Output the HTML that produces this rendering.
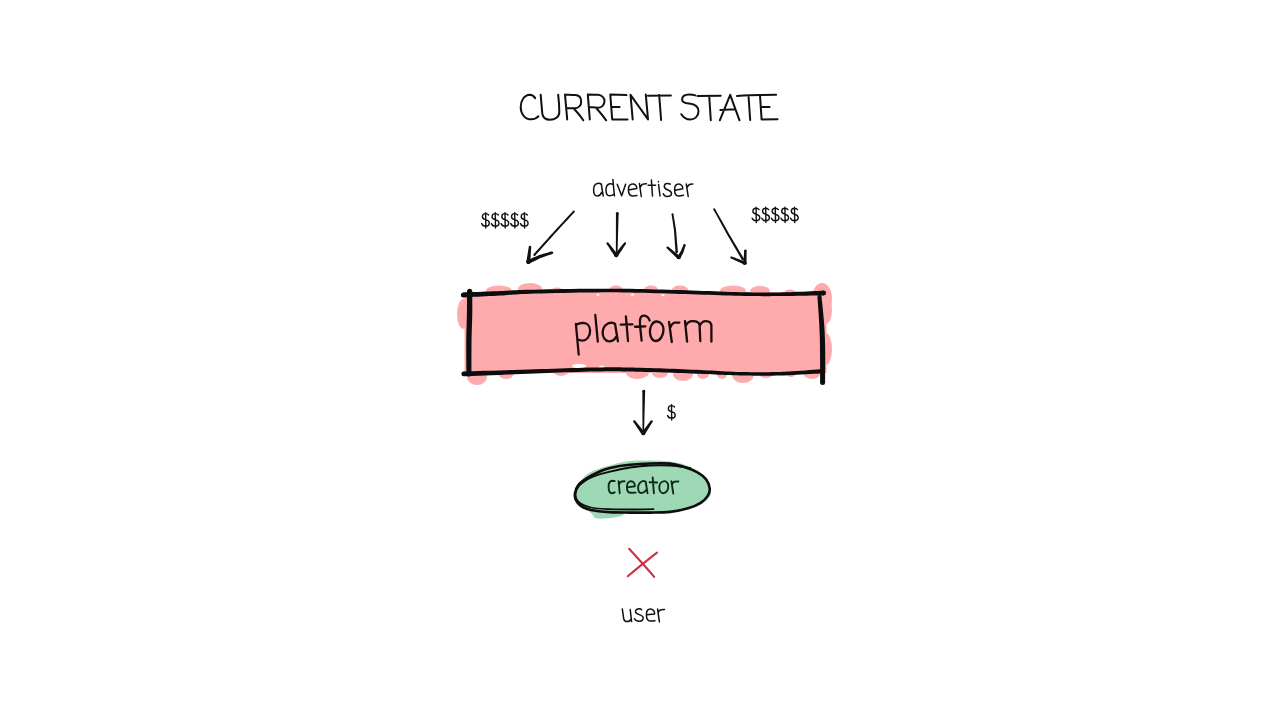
<!DOCTYPE html>
<html>
<head>
<meta charset="utf-8">
<style>
html,body{margin:0;padding:0;background:#fff;width:1280px;height:720px;overflow:hidden}
svg{display:block}
text{font-family:"Liberation Sans",sans-serif;fill:#1b1b1b}
</style>
</head>
<body>
<svg width="1280" height="720" viewBox="0 0 1280 720">
<rect width="1280" height="720" fill="#fff"/>

<g fill="none" stroke="#111" stroke-width="2" stroke-linecap="round" stroke-linejoin="round">
<path d="M535.2 98.1 C533.5 95.5 531.5 94.8 529.8 94.8 C524 95 520.7 101 520.7 107 C520.7 114 525 119.3 531.4 119.3 C534.5 119.3 537 118 538.5 116.2"/>
<path d="M540.7 94.8 C541.2 101 541.8 108 542.3 113.7 C543 117.5 546 119.7 550 119.7 C555 119.7 559.3 117 559.3 112 C559.3 106 558.8 100 558.2 94.8"/>
<path d="M565 94.6 L567.2 119.4 M565 94.6 C569 94.8 572 95 575.1 95.1 C579 95.3 581.2 98 581.2 101.7 C581.2 105.5 578.5 108.2 575.1 108.2 L566.4 108 M574 108.8 C577.5 112.5 580.5 116 583.3 120.3"/>
<path d="M587.8 94.6 L589.8 119.4 M587.8 94.6 C591.5 94.7 595 94.8 598 94.8 C602 95 604.5 98 604.5 101.1 C604.5 105 601.5 107.7 598.5 107.7 L589.2 107.1 M596.3 108.2 C599.5 111.5 603 116 606.2 120.3"/>
<path d="M626.4 95.1 L610.3 94.6 L612.2 119.4 L627.5 119.4 M611.1 107.1 L619.6 106.9"/>
<path d="M632.7 119.4 L630.5 94.8 L648 119.4 L645.8 94.6"/>
<path d="M648 95.7 L670.9 95.4 M659.2 95.1 L661.1 120"/>
<path d="M695.2 95.4 C693.5 94.8 691.5 94.6 689.2 94.6 C685 94.6 682.1 96.5 682.1 99.8 C682.1 103 686 103.3 689.2 103.6 C695 104.2 698.5 107 698.5 111.5 C698.5 116.5 694.5 119.5 690.3 119.5 C686 119.5 683 117 681.3 114.2"/>
<path d="M697.4 95.9 L720.7 95.7 M709.2 95.7 L710.8 120.3"/>
<path d="M719.8 120.3 L730.2 94.8 L739.5 120.3 M720.4 110.1 C725 109.5 729 109.4 734 109.6"/>
<path d="M737 95.9 C745 95.5 752 95.2 760 95.1 M748.5 95.7 L750.2 120"/>
<path d="M776.1 94.8 L760 95.1 L761.6 119.4 L777.5 119.2 M762.2 107.1 L769.6 106.9"/>
</g>
<g><path d="M573.07 210.92 L569.75 214.50 L566.43 218.08 L563.12 221.66 L559.80 225.23 L556.48 228.81 L553.16 232.40 L549.90 236.04 L546.64 239.67 L543.39 243.30 L540.13 246.93 L536.87 250.57 L533.62 254.20 L535.18 255.60 L538.43 251.96 L541.68 248.32 L544.93 244.69 L548.18 241.05 L551.43 237.41 L554.68 233.78 L557.98 230.20 L561.29 226.61 L564.60 223.03 L567.91 219.45 L571.22 215.86 L574.53 212.28 Z" fill="#111"/><circle cx="573.80" cy="211.60" r="1.00" fill="#111"/><circle cx="534.40" cy="254.90" r="1.05" fill="#111"/><path d="M528.81 246.86 L528.60 248.10 L528.39 249.33 L528.18 250.57 L527.98 251.80 L527.77 253.03 L527.56 254.27 L527.35 255.50 L527.14 256.74 L526.94 257.97 L526.73 259.21 L526.52 260.44 L526.31 261.67 L530.29 262.13 L530.36 260.88 L530.44 259.63 L530.51 258.38 L530.59 257.13 L530.66 255.88 L530.74 254.63 L530.82 253.38 L530.89 252.13 L530.97 250.88 L531.04 249.63 L531.12 248.39 L531.19 247.14 Z" fill="#111"/><circle cx="530.00" cy="247.00" r="1.20" fill="#111"/><circle cx="528.30" cy="261.90" r="2.00" fill="#111"/><path d="M529.14 263.72 L531.03 262.78 L532.93 261.84 L534.83 260.90 L536.72 259.96 L538.62 259.02 L540.43 258.12 L542.32 257.43 L544.31 256.73 L546.30 256.04 L548.30 255.34 L550.30 254.64 L552.30 253.94 L551.50 251.46 L549.47 252.05 L547.44 252.64 L545.41 253.22 L543.38 253.81 L541.33 254.40 L539.21 255.05 L537.19 255.92 L535.24 256.75 L533.30 257.58 L531.35 258.42 L529.41 259.25 L527.46 260.08 Z" fill="#111"/><circle cx="528.30" cy="261.90" r="2.00" fill="#111"/><circle cx="551.90" cy="252.70" r="1.30" fill="#111"/><path d="M615.95 213.28 L615.94 216.50 L615.93 219.73 L615.92 222.96 L615.91 226.18 L615.90 229.41 L615.89 232.63 L615.88 235.86 L615.88 239.08 L615.87 242.31 L615.86 245.54 L615.86 248.76 L615.85 251.99 L617.55 252.01 L617.64 248.79 L617.73 245.56 L617.82 242.34 L617.91 239.12 L618.00 235.89 L618.09 232.67 L618.18 229.44 L618.28 226.22 L618.37 222.99 L618.46 219.77 L618.56 216.55 L618.65 213.32 Z" fill="#111"/><circle cx="617.30" cy="213.30" r="1.35" fill="#111"/><circle cx="616.70" cy="252.00" r="0.85" fill="#111"/><path d="M606.61 243.94 L607.29 244.99 L607.97 246.03 L608.65 247.07 L609.34 248.11 L610.02 249.16 L610.70 250.20 L611.38 251.24 L612.06 252.28 L612.75 253.33 L613.43 254.37 L614.11 255.41 L614.79 256.45 L617.71 254.35 L616.93 253.37 L616.16 252.40 L615.38 251.42 L614.60 250.45 L613.83 249.47 L613.05 248.50 L612.27 247.53 L611.50 246.55 L610.72 245.58 L609.94 244.60 L609.17 243.63 L608.39 242.66 Z" fill="#111"/><circle cx="607.50" cy="243.30" r="1.10" fill="#111"/><circle cx="616.25" cy="255.40" r="1.80" fill="#111"/><path d="M617.71 256.45 L618.39 255.41 L619.07 254.37 L619.75 253.33 L620.44 252.28 L621.12 251.24 L621.80 250.20 L622.48 249.16 L623.16 248.11 L623.85 247.07 L624.53 246.03 L625.21 244.99 L625.89 243.94 L624.11 242.66 L623.33 243.63 L622.56 244.60 L621.78 245.58 L621.00 246.55 L620.23 247.53 L619.45 248.50 L618.67 249.47 L617.90 250.45 L617.12 251.42 L616.34 252.40 L615.57 253.37 L614.79 254.35 Z" fill="#111"/><circle cx="616.25" cy="255.40" r="1.80" fill="#111"/><circle cx="625.00" cy="243.30" r="1.10" fill="#111"/><path d="M671.56 214.35 L672.04 217.48 L672.51 220.62 L672.99 223.76 L673.46 226.89 L673.93 229.99 L674.16 233.11 L674.39 236.27 L674.61 239.44 L674.83 242.60 L675.06 245.76 L675.28 248.93 L675.50 252.09 L677.90 251.91 L677.63 248.75 L677.37 245.59 L677.10 242.43 L676.84 239.26 L676.57 236.10 L676.31 232.94 L676.03 229.74 L675.50 226.57 L674.99 223.44 L674.47 220.31 L673.95 217.18 L673.44 214.05 Z" fill="#111"/><circle cx="672.50" cy="214.20" r="0.95" fill="#111"/><circle cx="676.70" cy="252.00" r="1.20" fill="#111"/><path d="M666.77 248.32 L667.67 249.20 L668.57 250.08 L669.47 250.95 L670.36 251.83 L671.26 252.71 L672.16 253.58 L673.06 254.46 L673.96 255.34 L674.86 256.21 L675.76 257.09 L676.66 257.97 L677.55 258.85 L679.95 256.15 L678.97 255.36 L677.99 254.58 L677.02 253.79 L676.04 253.00 L675.06 252.21 L674.09 251.42 L673.11 250.63 L672.14 249.84 L671.16 249.05 L670.18 248.26 L669.21 247.47 L668.23 246.68 Z" fill="#111"/><circle cx="667.50" cy="247.50" r="1.10" fill="#111"/><circle cx="678.75" cy="257.50" r="1.80" fill="#111"/><path d="M680.30 258.42 L680.84 257.39 L681.37 256.37 L681.91 255.34 L682.45 254.32 L683.02 253.24 L683.52 252.06 L683.89 250.90 L684.24 249.79 L684.59 248.69 L684.94 247.59 L685.28 246.49 L685.63 245.38 L683.57 244.62 L683.11 245.68 L682.66 246.74 L682.20 247.80 L681.74 248.87 L681.29 249.93 L680.85 250.93 L680.36 251.82 L679.75 252.73 L679.11 253.69 L678.48 254.66 L677.84 255.62 L677.20 256.58 Z" fill="#111"/><circle cx="678.75" cy="257.50" r="1.80" fill="#111"/><circle cx="684.60" cy="245.00" r="1.10" fill="#111"/><path d="M713.37 209.66 L715.70 213.87 L718.02 218.09 L720.35 222.30 L722.67 226.51 L725.00 230.73 L727.34 234.95 L729.77 239.11 L732.20 243.26 L734.63 247.42 L737.05 251.57 L739.48 255.73 L741.91 259.88 L743.89 258.72 L741.43 254.58 L738.98 250.44 L736.52 246.30 L734.07 242.17 L731.61 238.03 L729.16 233.90 L726.80 229.72 L724.45 225.52 L722.09 221.33 L719.74 217.13 L717.38 212.93 L715.03 208.74 Z" fill="#111"/><circle cx="714.20" cy="209.20" r="0.95" fill="#111"/><circle cx="742.90" cy="259.30" r="1.15" fill="#111"/><path d="M730.91 258.32 L732.02 258.85 L733.14 259.38 L734.25 259.91 L735.36 260.44 L736.48 260.97 L737.59 261.50 L738.70 262.03 L739.82 262.55 L740.93 263.08 L742.04 263.61 L743.16 264.14 L744.27 264.67 L745.53 261.73 L744.37 261.29 L743.22 260.85 L742.07 260.42 L740.92 259.98 L739.76 259.54 L738.61 259.10 L737.46 258.67 L736.30 258.23 L735.15 257.79 L734.00 257.35 L732.85 256.92 L731.69 256.48 Z" fill="#111"/><circle cx="731.30" cy="257.40" r="1.00" fill="#111"/><circle cx="744.90" cy="263.20" r="1.60" fill="#111"/><path d="M746.50 263.26 L746.51 262.21 L746.52 261.16 L746.52 260.11 L746.53 259.06 L746.54 258.01 L746.55 256.96 L746.56 255.90 L746.57 254.85 L746.57 253.80 L746.58 252.75 L746.59 251.70 L746.60 250.65 L744.20 250.55 L744.13 251.60 L744.05 252.65 L743.98 253.70 L743.90 254.75 L743.83 255.80 L743.75 256.84 L743.68 257.89 L743.60 258.94 L743.53 259.99 L743.45 261.04 L743.38 262.09 L743.30 263.14 Z" fill="#111"/><circle cx="744.90" cy="263.20" r="1.60" fill="#111"/><circle cx="745.40" cy="250.60" r="1.20" fill="#111"/></g>
<g fill="#ffabae"><rect x="464.5" y="294" width="362" height="79"/><rect x="466" y="292" width="358" height="4"/>
<ellipse cx="499" cy="291" rx="13" ry="5.5"/>
<ellipse cx="530" cy="289" rx="12" ry="6"/>
<ellipse cx="557" cy="291" rx="6" ry="3.5"/>
<ellipse cx="616" cy="290" rx="7" ry="4.5"/>
<ellipse cx="651" cy="290" rx="7" ry="4.5"/>
<ellipse cx="680" cy="290" rx="8" ry="4.5"/>
<ellipse cx="733" cy="291" rx="13" ry="5.5"/>
<ellipse cx="760" cy="291" rx="10" ry="5"/>
<ellipse cx="790" cy="293" rx="6" ry="3.5"/>
<ellipse cx="822" cy="298" rx="10" ry="15"/>
<ellipse cx="826" cy="349" rx="6" ry="16"/>
<ellipse cx="826" cy="310" rx="6" ry="14"/>
<ellipse cx="463.5" cy="314" rx="6.5" ry="15"/>
<ellipse cx="477" cy="377" rx="10" ry="8"/>
<ellipse cx="506" cy="373" rx="8" ry="6"/>
<ellipse cx="561" cy="371" rx="8" ry="5"/>
<ellipse cx="637" cy="373" rx="11" ry="6"/>
<ellipse cx="644" cy="372" rx="5" ry="5"/>
<ellipse cx="660" cy="373" rx="8" ry="5"/>
<ellipse cx="683" cy="374" rx="10" ry="7"/>
<ellipse cx="703" cy="374" rx="6" ry="5"/>
<ellipse cx="722" cy="374" rx="5" ry="5"/>
<ellipse cx="743" cy="375" rx="11" ry="8"/>
<ellipse cx="766" cy="374" rx="7" ry="4"/>
<ellipse cx="791" cy="373" rx="5" ry="4"/>
<ellipse cx="812" cy="374" rx="8" ry="5"/>
</g>
<g fill="#fff"><ellipse cx="579" cy="366" rx="7" ry="2.2"/><ellipse cx="602" cy="367" rx="3" ry="1.2"/><ellipse cx="598" cy="294.8" rx="1.5" ry="1"/><ellipse cx="632.5" cy="294.8" rx="1.5" ry="1"/><ellipse cx="663" cy="295.3" rx="1.5" ry="1"/></g>
<g><path d="M463.51 297.40 L465.48 297.29 L468.02 297.16 L471.02 297.01 L474.39 296.84 L478.04 296.66 L481.85 296.48 L485.74 296.28 L489.61 296.09 L493.35 295.90 L496.89 295.72 L500.11 295.55 L502.91 295.38 L505.32 295.21 L507.46 295.04 L509.45 294.87 L511.42 294.71 L513.49 294.54 L515.80 294.38 L518.49 294.22 L521.67 294.06 L525.48 293.90 L530.05 293.75 L535.48 293.60 L541.68 293.43 L548.52 293.26 L555.87 293.08 L563.58 292.92 L571.53 292.76 L579.57 292.61 L587.57 292.49 L595.40 292.39 L602.92 292.33 L610.00 292.30 L616.76 292.34 L623.45 292.42 L630.05 292.52 L636.57 292.66 L643.01 292.81 L649.37 292.98 L655.65 293.16 L661.85 293.35 L667.96 293.54 L674.00 293.72 L679.95 293.90 L685.85 294.06 L691.73 294.24 L697.56 294.43 L703.33 294.63 L709.01 294.83 L714.57 295.03 L720.01 295.22 L725.29 295.39 L730.39 295.55 L735.28 295.69 L739.96 295.80 L744.34 295.89 L748.41 295.97 L752.22 296.03 L755.84 296.08 L759.31 296.12 L762.69 296.14 L766.02 296.14 L769.37 296.14 L772.78 296.12 L776.32 296.09 L780.02 296.05 L784.03 296.04 L788.36 296.01 L792.89 295.95 L797.52 295.87 L802.14 295.78 L806.65 295.69 L810.94 295.61 L814.91 295.53 L818.44 295.46 L821.43 295.42 L823.77 295.40 L823.63 290.60 L821.28 290.73 L818.29 290.88 L814.76 291.06 L810.80 291.25 L806.51 291.44 L802.01 291.64 L797.40 291.84 L792.78 292.02 L788.27 292.19 L783.96 292.33 L779.98 292.45 L776.28 292.49 L772.76 292.52 L769.36 292.54 L766.02 292.54 L762.70 292.54 L759.34 292.52 L755.88 292.48 L752.28 292.44 L748.47 292.37 L744.41 292.29 L740.04 292.20 L735.38 292.07 L730.50 291.92 L725.41 291.74 L720.14 291.55 L714.71 291.34 L709.14 291.12 L703.46 290.90 L697.69 290.69 L691.85 290.48 L685.96 290.28 L680.05 290.10 L674.10 289.94 L668.07 289.78 L661.96 289.61 L655.75 289.44 L649.47 289.28 L643.10 289.12 L636.65 288.99 L630.11 288.87 L623.49 288.78 L616.79 288.72 L610.00 288.70 L602.91 288.69 L595.37 288.72 L587.53 288.78 L579.51 288.87 L571.46 288.97 L563.51 289.10 L555.79 289.23 L548.44 289.37 L541.59 289.50 L535.38 289.63 L529.95 289.75 L525.36 289.86 L521.51 289.97 L518.29 290.08 L515.57 290.20 L513.22 290.32 L511.11 290.44 L509.13 290.57 L507.15 290.69 L505.04 290.81 L502.66 290.93 L499.89 291.05 L496.68 291.18 L493.15 291.32 L489.40 291.46 L485.54 291.61 L481.65 291.75 L477.83 291.89 L474.19 292.03 L470.82 292.15 L467.81 292.25 L465.27 292.34 L463.29 292.40 Z" fill="#0d0d0d"/><circle cx="463.40" cy="294.90" r="2.50" fill="#0d0d0d"/><circle cx="823.70" cy="293.00" r="2.40" fill="#0d0d0d"/><path d="M463.83 376.30 L467.66 376.14 L472.54 375.93 L478.29 375.70 L484.76 375.44 L491.75 375.17 L499.10 374.88 L506.63 374.59 L514.17 374.29 L521.54 374.01 L528.56 373.74 L535.07 373.50 L541.27 373.28 L547.48 373.05 L553.66 372.82 L559.80 372.59 L565.88 372.36 L571.89 372.15 L577.79 371.95 L583.58 371.77 L589.23 371.62 L594.71 371.49 L600.02 371.40 L605.12 371.35 L610.01 371.33 L614.71 371.34 L619.27 371.37 L623.71 371.42 L628.08 371.49 L632.41 371.58 L636.72 371.67 L641.06 371.78 L645.46 371.89 L649.95 372.00 L654.53 372.11 L659.16 372.25 L663.84 372.40 L668.53 372.56 L673.21 372.73 L677.87 372.91 L682.47 373.10 L687.00 373.28 L691.44 373.46 L695.75 373.63 L699.92 373.80 L703.93 373.95 L707.79 374.12 L711.54 374.29 L715.19 374.46 L718.76 374.63 L722.29 374.80 L725.79 374.95 L729.29 375.09 L732.80 375.22 L736.35 375.32 L739.96 375.40 L743.60 375.49 L747.22 375.56 L750.83 375.62 L754.45 375.67 L758.06 375.70 L761.68 375.72 L765.32 375.72 L768.97 375.69 L772.64 375.65 L776.33 375.59 L780.06 375.50 L783.97 375.39 L788.17 375.23 L792.55 375.03 L797.00 374.81 L801.44 374.57 L805.76 374.32 L809.87 374.08 L813.65 373.86 L817.03 373.66 L819.88 373.51 L822.13 373.40 L821.87 369.20 L819.62 369.37 L816.76 369.58 L813.39 369.83 L809.61 370.11 L805.51 370.40 L801.20 370.70 L796.78 371.00 L792.35 371.27 L787.99 371.52 L783.83 371.74 L779.94 371.90 L776.25 372.01 L772.58 372.09 L768.93 372.15 L765.30 372.19 L761.68 372.21 L758.08 372.21 L754.48 372.20 L750.88 372.17 L747.27 372.12 L743.66 372.07 L740.04 372.00 L736.45 371.89 L732.93 371.75 L729.44 371.59 L725.96 371.41 L722.47 371.22 L718.95 371.02 L715.38 370.81 L711.72 370.60 L707.97 370.40 L704.10 370.19 L700.08 370.00 L695.91 369.82 L691.60 369.63 L687.17 369.43 L682.64 369.23 L678.03 369.03 L673.37 368.83 L668.68 368.64 L663.98 368.46 L659.29 368.29 L654.64 368.13 L650.05 368.00 L645.56 367.89 L641.16 367.78 L636.82 367.67 L632.49 367.58 L628.15 367.49 L623.77 367.42 L619.30 367.37 L614.73 367.34 L610.00 367.33 L605.10 367.35 L599.98 367.40 L594.64 367.47 L589.13 367.58 L583.47 367.72 L577.67 367.88 L571.75 368.06 L565.74 368.26 L559.65 368.46 L553.51 368.68 L547.33 368.89 L541.13 369.10 L534.93 369.30 L528.42 369.49 L521.39 369.70 L514.02 369.93 L506.48 370.17 L498.94 370.41 L491.59 370.64 L484.59 370.86 L478.13 371.07 L472.37 371.25 L467.49 371.39 L463.67 371.50 Z" fill="#0d0d0d"/><circle cx="463.75" cy="373.90" r="2.40" fill="#0d0d0d"/><circle cx="822.00" cy="371.30" r="2.10" fill="#0d0d0d"/><path d="M467.00 291.26 L466.99 292.51 L466.99 294.10 L466.99 295.95 L466.99 298.04 L466.99 300.30 L466.99 302.71 L466.98 305.20 L466.96 307.74 L466.94 310.28 L466.90 312.76 L466.86 315.24 L466.80 317.78 L466.74 320.40 L466.66 323.08 L466.58 325.83 L466.49 328.63 L466.42 331.51 L466.35 334.44 L466.29 337.42 L466.25 340.47 L466.24 343.74 L466.24 347.34 L466.24 351.15 L466.26 355.06 L466.28 358.94 L466.31 362.68 L466.33 366.16 L466.36 369.27 L466.38 371.89 L466.40 373.90 L471.40 373.90 L471.41 371.88 L471.42 369.26 L471.42 366.15 L471.43 362.66 L471.43 358.93 L471.44 355.05 L471.45 351.16 L471.48 347.36 L471.51 343.78 L471.55 340.53 L471.60 337.52 L471.67 334.56 L471.74 331.65 L471.83 328.79 L471.92 325.99 L472.02 323.25 L472.10 320.56 L472.18 317.93 L472.25 315.35 L472.30 312.84 L472.32 310.32 L472.32 307.76 L472.32 305.21 L472.31 302.70 L472.29 300.28 L472.27 298.01 L472.25 295.92 L472.23 294.07 L472.21 292.49 L472.20 291.24 Z" fill="#0d0d0d"/><circle cx="469.60" cy="291.25" r="2.60" fill="#0d0d0d"/><circle cx="468.90" cy="373.90" r="2.50" fill="#0d0d0d"/><path d="M817.51 296.96 L817.60 298.72 L817.74 301.00 L817.93 303.70 L818.13 306.73 L818.36 309.97 L818.59 313.34 L818.80 316.72 L819.01 320.02 L819.18 323.13 L819.30 325.95 L819.44 328.51 L819.55 330.94 L819.65 333.26 L819.73 335.53 L819.80 337.77 L819.85 340.03 L819.90 342.35 L819.94 344.76 L819.97 347.31 L820.00 350.03 L820.04 353.07 L820.07 356.48 L820.09 360.14 L820.10 363.92 L820.10 367.71 L820.10 371.37 L820.10 374.79 L820.09 377.85 L820.09 380.43 L820.10 382.40 L825.10 382.40 L825.11 380.44 L825.13 377.87 L825.16 374.81 L825.18 371.39 L825.20 367.72 L825.22 363.93 L825.23 360.14 L825.23 356.46 L825.22 353.03 L825.20 349.97 L825.15 347.23 L825.09 344.66 L825.04 342.23 L824.97 339.89 L824.89 337.61 L824.80 335.34 L824.70 333.05 L824.59 330.69 L824.45 328.24 L824.30 325.65 L824.06 322.80 L823.79 319.67 L823.49 316.36 L823.17 312.97 L822.84 309.60 L822.52 306.36 L822.21 303.34 L821.93 300.64 L821.69 298.38 L821.49 296.64 Z" fill="#0d0d0d"/><circle cx="819.50" cy="296.80" r="2.00" fill="#0d0d0d"/><circle cx="822.60" cy="382.40" r="2.50" fill="#0d0d0d"/></g>
<g><path d="M642.35 391.23 L642.36 394.55 L642.37 397.86 L642.38 401.17 L642.39 404.49 L642.40 407.80 L642.41 411.11 L642.42 414.43 L642.44 417.74 L642.45 421.05 L642.47 424.37 L642.48 427.68 L642.50 430.99 L644.10 431.01 L644.18 427.70 L644.27 424.38 L644.35 421.07 L644.44 417.76 L644.52 414.45 L644.61 411.14 L644.70 407.83 L644.79 404.51 L644.88 401.20 L644.97 397.89 L645.06 394.58 L645.15 391.27 Z" fill="#111"/><circle cx="643.75" cy="391.25" r="1.40" fill="#111"/><circle cx="643.30" cy="431.00" r="0.80" fill="#111"/><path d="M633.32 421.91 L634.03 422.96 L634.74 424.02 L635.45 425.07 L636.16 426.13 L636.87 427.18 L637.59 428.24 L638.30 429.30 L639.01 430.35 L639.72 431.41 L640.43 432.46 L641.14 433.52 L641.86 434.57 L644.74 432.43 L643.94 431.44 L643.13 430.45 L642.33 429.47 L641.52 428.48 L640.72 427.50 L639.91 426.51 L639.11 425.52 L638.30 424.54 L637.50 423.55 L636.69 422.57 L635.89 421.58 L635.08 420.59 Z" fill="#111"/><circle cx="634.20" cy="421.25" r="1.10" fill="#111"/><circle cx="643.30" cy="433.50" r="1.80" fill="#111"/><path d="M644.78 434.52 L645.44 433.46 L646.09 432.41 L646.74 431.36 L647.39 430.30 L648.04 429.25 L648.70 428.20 L649.35 427.14 L650.00 426.09 L650.65 425.03 L651.30 423.98 L651.96 422.93 L652.61 421.87 L650.79 420.63 L650.04 421.62 L649.30 422.60 L648.55 423.59 L647.80 424.58 L647.05 425.57 L646.30 426.55 L645.56 427.54 L644.81 428.53 L644.06 429.52 L643.31 430.51 L642.56 431.49 L641.82 432.48 Z" fill="#111"/><circle cx="643.30" cy="433.50" r="1.80" fill="#111"/><circle cx="651.70" cy="421.25" r="1.10" fill="#111"/></g>
<path d="M576.5 493.0 C576.8 489.8 578.4 486.0 580.0 483.0 C581.6 480.0 583.2 477.2 586.0 475.0 C588.8 472.8 592.2 471.3 597.0 469.5 C601.8 467.7 609.5 465.4 615.0 464.0 C620.5 462.6 624.2 461.6 630.0 461.0 C635.8 460.4 643.3 460.4 650.0 460.5 C656.7 460.6 663.8 460.7 670.0 461.5 C676.2 462.3 682.0 463.7 687.0 465.5 C692.0 467.3 696.7 469.9 700.0 472.5 C703.3 475.1 705.2 477.9 707.0 481.0 C708.8 484.1 710.8 488.0 711.0 491.0 C711.2 494.0 710.2 496.6 708.0 499.0 C705.8 501.4 702.7 503.7 698.0 505.5 C693.3 507.3 688.0 508.8 680.0 510.0 C672.0 511.2 658.7 512.0 650.0 512.5 C641.3 513.0 633.0 512.3 628.0 513.0 C623.0 513.7 623.3 515.6 620.0 516.5 C616.7 517.4 612.0 518.0 608.0 518.3 C604.0 518.6 598.7 519.0 596.0 518.3 C593.3 517.6 593.8 515.7 592.0 514.0 C590.2 512.3 587.3 510.0 585.0 508.0 C582.7 506.0 579.4 504.5 578.0 502.0 C576.6 499.5 576.2 496.2 576.5 493.0 Z" fill="#9fd8b4"/>
<path d="M575.0 493.3 C575.4 490.8 576.3 487.5 578.3 485.0 C580.2 482.5 583.2 480.5 586.7 478.3 C590.2 476.1 595.3 473.4 599.2 471.7 C603.1 470.0 604.9 469.0 610.0 467.9 C615.1 466.8 623.3 465.5 630.0 464.8 C636.7 464.1 643.3 463.7 650.0 463.5 C656.7 463.3 664.4 463.1 670.0 463.6 C675.6 464.1 679.0 465.3 683.5 466.7 C688.0 468.1 693.2 470.0 697.0 472.1 C700.8 474.2 704.0 476.7 706.1 479.4 C708.2 482.1 709.4 485.7 709.7 488.4 C710.0 491.1 709.4 493.2 707.9 495.6 C706.4 498.0 704.0 500.7 700.7 502.8 C697.4 504.9 693.1 506.8 688.0 508.3 C682.9 509.8 676.3 511.2 670.0 511.9 C663.7 512.6 656.7 512.5 650.0 512.6 C643.3 512.7 636.7 512.7 630.0 512.6 C623.3 512.5 616.5 512.5 610.0 512.1 C603.5 511.7 595.7 511.1 590.8 510.0 C585.9 508.9 583.3 507.5 580.8 505.8 C578.3 504.1 576.8 502.1 575.8 500.0 C574.8 497.9 574.6 495.8 575.0 493.3 Z" fill="none" stroke="#0d0d0d" stroke-width="2.6"/>
<path d="M653.5 509.2 C649.6 509.2 637.2 509.5 630.0 509.5 C622.8 509.5 616.5 509.5 610.0 509.2 C603.5 508.9 596.1 508.8 590.8 507.5 C585.5 506.2 580.8 503.9 578.3 501.7 C575.8 499.4 575.4 496.6 575.5 494.0 C575.6 491.4 576.9 488.5 579.0 486.0 C581.1 483.5 585.3 480.7 588.0 479.0 C590.7 477.3 591.3 477.0 595.0 475.8 C598.7 474.6 604.2 473.1 610.0 471.7 C615.8 470.3 623.3 468.5 630.0 467.5 C636.7 466.5 643.3 465.8 650.0 465.5 C656.7 465.2 663.3 465.1 670.0 465.5 C676.7 465.9 686.7 467.6 690.0 468.0" fill="none" stroke="#0d0d0d" stroke-width="1.8" stroke-linecap="round"/>
<g fill="none" stroke="#cf2f47" stroke-width="2.1" stroke-linecap="round"><path d="M629.2 548.8 C637 557.5 646 567 654.2 576.9"/><path d="M657 552.7 C647 560.5 637 568.5 627.8 576.3"/></g>
<g fill="none" stroke="#111" stroke-linecap="round" stroke-linejoin="round">
<path d="M488.60 215.00 C487.90 214.00 486.80 213.60 485.40 213.60 C483.60 213.60 482.40 215.00 482.40 216.70 C482.40 218.50 483.80 219.10 485.60 219.60 C488.00 220.20 489.30 221.30 489.30 222.90 C489.30 224.90 487.60 226.10 485.30 226.10 C483.60 226.10 482.30 225.00 481.70 223.60 M485.60 212.60 L485.80 228.00" stroke-width="1.4"/>
<path d="M759.10 209.60 C758.40 208.60 757.30 208.20 755.90 208.20 C754.10 208.20 752.90 209.60 752.90 211.30 C752.90 213.10 754.30 213.70 756.10 214.20 C758.50 214.80 759.80 215.90 759.80 217.50 C759.80 219.50 758.10 220.70 755.80 220.70 C754.10 220.70 752.80 219.60 752.20 218.20 M756.10 207.20 L756.30 222.60" stroke-width="1.4"/>
<path d="M498.30 215.00 C497.60 214.00 496.50 213.60 495.10 213.60 C493.30 213.60 492.10 215.00 492.10 216.70 C492.10 218.50 493.50 219.10 495.30 219.60 C497.70 220.20 499.00 221.30 499.00 222.90 C499.00 224.90 497.30 226.10 495.00 226.10 C493.30 226.10 492.00 225.00 491.40 223.60 M495.30 212.60 L495.50 228.00" stroke-width="1.4"/>
<path d="M768.70 209.60 C768.00 208.60 766.90 208.20 765.50 208.20 C763.70 208.20 762.50 209.60 762.50 211.30 C762.50 213.10 763.90 213.70 765.70 214.20 C768.10 214.80 769.40 215.90 769.40 217.50 C769.40 219.50 767.70 220.70 765.40 220.70 C763.70 220.70 762.40 219.60 761.80 218.20 M765.70 207.20 L765.90 222.60" stroke-width="1.4"/>
<path d="M508.00 215.00 C507.30 214.00 506.20 213.60 504.80 213.60 C503.00 213.60 501.80 215.00 501.80 216.70 C501.80 218.50 503.20 219.10 505.00 219.60 C507.40 220.20 508.70 221.30 508.70 222.90 C508.70 224.90 507.00 226.10 504.70 226.10 C503.00 226.10 501.70 225.00 501.10 223.60 M505.00 212.60 L505.20 228.00" stroke-width="1.4"/>
<path d="M778.30 209.60 C777.60 208.60 776.50 208.20 775.10 208.20 C773.30 208.20 772.10 209.60 772.10 211.30 C772.10 213.10 773.50 213.70 775.30 214.20 C777.70 214.80 779.00 215.90 779.00 217.50 C779.00 219.50 777.30 220.70 775.00 220.70 C773.30 220.70 772.00 219.60 771.40 218.20 M775.30 207.20 L775.50 222.60" stroke-width="1.4"/>
<path d="M517.70 215.00 C517.00 214.00 515.90 213.60 514.50 213.60 C512.70 213.60 511.50 215.00 511.50 216.70 C511.50 218.50 512.90 219.10 514.70 219.60 C517.10 220.20 518.40 221.30 518.40 222.90 C518.40 224.90 516.70 226.10 514.40 226.10 C512.70 226.10 511.40 225.00 510.80 223.60 M514.70 212.60 L514.90 228.00" stroke-width="1.4"/>
<path d="M787.90 209.60 C787.20 208.60 786.10 208.20 784.70 208.20 C782.90 208.20 781.70 209.60 781.70 211.30 C781.70 213.10 783.10 213.70 784.90 214.20 C787.30 214.80 788.60 215.90 788.60 217.50 C788.60 219.50 786.90 220.70 784.60 220.70 C782.90 220.70 781.60 219.60 781.00 218.20 M784.90 207.20 L785.10 222.60" stroke-width="1.4"/>
<path d="M527.40 215.00 C526.70 214.00 525.60 213.60 524.20 213.60 C522.40 213.60 521.20 215.00 521.20 216.70 C521.20 218.50 522.60 219.10 524.40 219.60 C526.80 220.20 528.10 221.30 528.10 222.90 C528.10 224.90 526.40 226.10 524.10 226.10 C522.40 226.10 521.10 225.00 520.50 223.60 M524.40 212.60 L524.60 228.00" stroke-width="1.4"/>
<path d="M797.50 209.60 C796.80 208.60 795.70 208.20 794.30 208.20 C792.50 208.20 791.30 209.60 791.30 211.30 C791.30 213.10 792.70 213.70 794.50 214.20 C796.90 214.80 798.20 215.90 798.20 217.50 C798.20 219.50 796.50 220.70 794.20 220.70 C792.50 220.70 791.20 219.60 790.60 218.20 M794.50 207.20 L794.70 222.60" stroke-width="1.4"/>
<path d="M674.50 407.00 C673.80 406.00 672.70 405.60 671.30 405.60 C669.50 405.60 668.30 407.00 668.30 408.70 C668.30 410.50 669.70 411.10 671.50 411.60 C673.90 412.20 675.20 413.30 675.20 414.90 C675.20 416.90 673.50 418.10 671.20 418.10 C669.50 418.10 668.20 417.00 667.60 415.60 M671.50 404.60 L671.70 420.00" stroke-width="1.4"/>
</g>
<g fill="none" stroke="#111" stroke-width="1.5" stroke-linecap="round" stroke-linejoin="round">
<path d="M601.3 184.5 C600 183 598.5 183.2 597.5 183.4 C594.5 184 593.6 187.5 593.6 190 C593.6 193.5 595.2 196 597.5 196 C599.5 196 601 194 601.5 192.5 M601.3 183.9 C601.8 188 602.5 192 603.3 196.1"/>
<path d="M612.3 184.2 C611.5 183.6 610.5 183.6 609.8 183.8 C607.2 184.5 606 187 606 189.8 C606 193.5 607.5 195.8 609.5 195.8 C611.5 195.8 613 195 613.8 194.2 M612.9 179.4 C613.3 185 614 191 614.4 195.9"/>
<path d="M617.2 184.3 L621.7 195.7 L625.6 184.3"/>
<path d="M628.4 190.1 L636.8 188.6 C637 186 635 184 632.7 184.1 C630 184.2 628.4 186.5 628.4 189.5 C628.4 193.5 630 195.9 632.5 195.9 C634.5 195.9 636 195.7 637 195.5"/>
<path d="M639.4 183.4 L641.3 196.5 M640.1 187.6 C641 185.5 642.3 184.1 643.6 184.1 L646.4 183.8"/>
<path d="M651.4 180.1 L652.5 196 M648.1 185.3 L655.6 185.3"/>
<path d="M658.6 184.5 L660 196 M658.4 181.6 L658.5 181.8"/>
<path d="M670.3 184.1 C669.5 183.5 668.2 183.4 667 183.4 C665.3 183.4 664.3 184.8 664.3 186.5 C664.3 188.5 666 189.3 668 190 C670.3 190.8 671.5 191.8 671.5 193.5 C671.5 195.3 669.5 196.5 667 196.5 C665.2 196.5 663.9 195.2 663.3 193.7"/>
<path d="M675 190.2 L682.8 188.8 C683 186 681 184.1 678.8 184.1 C676.2 184.1 674.6 186.5 674.6 189.5 C674.6 193.5 676 196 678.3 196 C680.5 196 682.3 195.6 683.5 195.3"/>
<path d="M686.3 184.1 L688.2 196.5 M686.8 188.1 C687.8 185.5 689 184.3 690.5 184.2 L692.8 184.1"/>
</g>
<g fill="none" stroke="#1a0d0d" stroke-width="2.3" stroke-linecap="round" stroke-linejoin="round">
<path d="M575.9 324 L578.7 354.5 M576.3 324.7 C578.5 323.3 581 322.9 583.2 322.9 C587.5 323 590.1 326.5 590.1 330.9 C590.1 336.5 586.5 340.6 582.5 340.6 C580.5 340.6 579 340.2 578 339.6"/>
<path d="M595.3 315 L597.8 341.7"/>
<path d="M615.1 324.5 C614 323 612.8 322.6 611.7 322.6 C606 323 602.6 327.5 602.6 332.5 C602.6 337.5 605.5 341.3 608.9 341.3 C612.2 341.3 614.8 339.3 615.8 337.2 M615.1 324 C616 330 617 336 617.9 341.3"/>
<path d="M625.9 316.3 L628 341 M620.7 324.7 L632.5 324.3"/>
<path d="M641.6 340.6 C641 334 640 327 639.9 321.9 C639.8 317.5 641.5 315.6 643.5 315.6 C646.5 315.6 648.7 317.5 649.6 320.5 M635 326.75 L645.4 326.4"/>
<path d="M656.5 321.5 C652.5 321.8 649.9 326.5 649.9 331.6 C649.9 337 652.5 341 655.8 341 C660 341 663.5 335.5 663.5 329.5 C663.5 325 660.5 321.3 656.5 321.5 Z"/>
<path d="M669 321.9 L671.8 342 M670.4 327.4 C671.5 324.5 673.3 322.6 675.3 322.6 L679.4 322.6"/>
<path d="M685 321.2 L687.1 341.7 M685.7 326 C687 322.8 689.8 321.2 692.6 321.2 C696.5 321.2 699.6 322.5 699.6 326 L700.3 341 M699.7 326 C701 322.8 703.3 321.2 705.8 321.2 C709.5 321.2 711.4 323 711.4 326.5 L711.4 341.7"/>
</g>
<g fill="none" stroke="#0f2a1a" stroke-width="1.9" stroke-linecap="round" stroke-linejoin="round">
<path d="M614.7 481.1 C614 480.8 613.2 480.75 612.3 480.75 C610 480.9 608.6 483.5 608.6 486.8 C608.6 490.5 610 493.2 611.8 493.2 C613 493.2 614 492.8 614.7 492.2"/>
<path d="M618.6 481.3 L619.7 493.2 M619 484.8 C619.7 482.8 620.5 481.7 621.6 481.5 L624.6 481.3"/>
<path d="M627.1 487.4 L634.9 486.2 C635 483.5 633.5 481.3 631 481.3 C628.5 481.3 626.9 483.8 626.9 486.8 C626.9 490.5 628.3 492.8 630.2 492.8 C632.5 492.8 634.3 492.7 635.7 492.6"/>
<path d="M645.7 482.2 C645 481.2 644.5 480.9 643.8 480.9 C640.5 481.2 638.1 484.5 638.1 487.6 C638.1 490.8 639.5 493 641.1 493 C643.3 493 645.3 491.3 646.1 489.9 M645.7 481.7 L647.5 493.2"/>
<path d="M652.7 477.4 L653.9 493.2 M649.6 482.3 L657.2 482.5"/>
<path d="M664.4 481.1 C661.3 481.3 659.3 484 659.3 487.2 C659.3 490.8 661 493.2 663.2 493.2 C666 493.2 668.3 490 668.3 486.4 C668.3 483.2 666.5 481 664.4 481.1 Z"/>
<path d="M671.4 481.3 L673.3 493.6 M672 484.8 C672.6 482.8 673.5 481.7 674.8 481.6 L678.4 481.5"/>
</g>
<g fill="none" stroke="#111" stroke-width="1.5" stroke-linecap="round" stroke-linejoin="round">
<path d="M622.3 609.1 C622.8 612.5 623.3 616 623.7 618.7 C624.2 620.7 625.3 621.5 626.9 621.5 C628.7 621.5 630.5 620.3 631 619.1 M630.2 609.5 L631.6 621.5"/>
<path d="M641.6 609.75 C641 609 640.3 608.7 639.5 608.7 C637.2 608.7 635.5 610 635.5 611.8 C635.5 613.3 637 614 639.1 614.6 C641.5 615.3 643.2 616 643.2 617.8 C643.2 620 641.3 621.3 639.1 621.3 C636.8 621.3 635.2 620.2 634.5 618.7"/>
<path d="M646.4 614.8 L654.6 614 C654.8 611.2 653 609.1 650.5 609.1 C648 609.1 646.4 611.5 646.4 614.6 C646.4 618.5 648 621.1 650.1 621.1 C652.3 621.1 654 620.9 655 620.7"/>
<path d="M657.6 609.1 L659.4 621.9 M658 613 C658.8 611 659.8 609.9 661 609.8 L664.5 609.5"/>
</g>
</svg>
</body>
</html>
